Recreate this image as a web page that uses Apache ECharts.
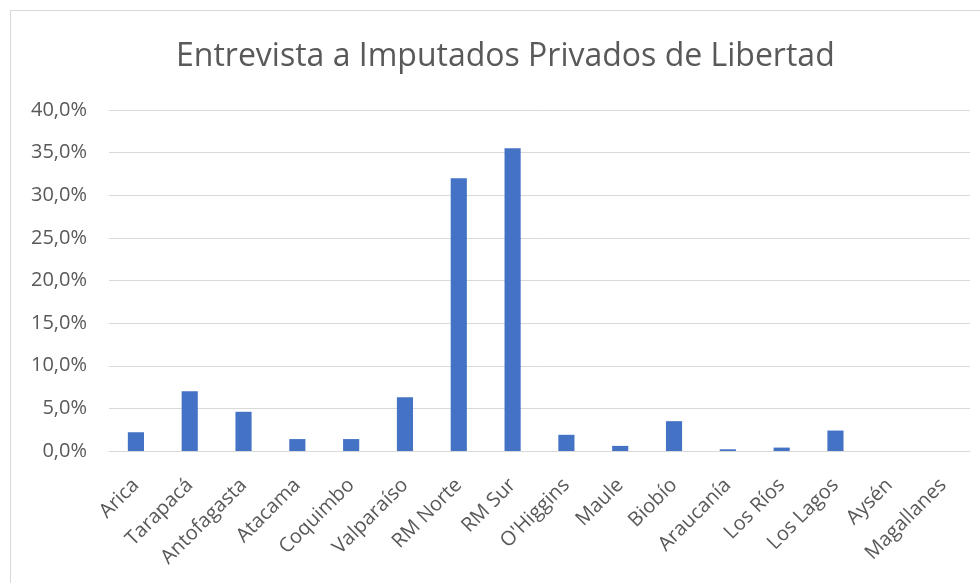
<!DOCTYPE html>
<html>
<head>
<meta charset="utf-8">
<script src="https://cdn.jsdelivr.net/npm/echarts@6/dist/echarts.min.js"></script>
<style>
  html, body { margin: 0; padding: 0; background: #fff; }
  #frame { position: absolute; left: 10px; top: 10px; width: 975px; height: 580px; border: 1px solid #d9d9d9; box-sizing: border-box; }
  #chart { position: absolute; left: 0; top: 0; width: 980px; height: 583px; }
</style>
</head>
<body>
<div id="frame"></div>
<div id="chart"></div>
<script>
// categorías (regiones)
const regiones = ['Arica', 'Tarapacá', 'Antofagasta', 'Atacama', 'Coquimbo', 'Valparaíso', 'RM Norte', 'RM Sur',
    "O'Higgins", 'Maule', 'Biobío', 'Araucanía', 'Los Ríos', 'Los Lagos', 'Aysén', 'Magallanes'];
// porcentaje de entrevistas por región
const porcentajes = [2.2, 7.0, 4.6, 1.4, 1.4, 6.3, 32.0, 35.5, 1.9, 0.6, 3.5, 0.2, 0.4, 2.4, 0, 0];

const FONT = '"Open Sans", "Noto Sans", sans-serif';
const GRAY = '#595959';

const chart = echarts.init(document.getElementById('chart'));
chart.setOption({
    animation: false,
    title: {
        text: 'Entrevista a Imputados Privados de Libertad',
        left: 171,
        top: 36,
        textStyle: { fontFamily: FONT, fontSize: 32, fontWeight: 'normal', color: GRAY }
    },
    grid: { left: 109, right: 10, top: 110, bottom: 132 },
    xAxis: {
        type: 'category',
        data: regiones,
        axisLine: { lineStyle: { color: '#d9d9d9', width: 1 } },
        axisTick: { show: false },
        axisLabel: { interval: 0, rotate: 45, fontFamily: FONT, fontSize: 20, color: GRAY, margin: 31 }
    },
    yAxis: {
        type: 'value',
        min: 0,
        max: 40,
        interval: 5,
        axisLine: { show: false },
        axisTick: { show: false },
        splitLine: { lineStyle: { color: '#d9d9d9', width: 1 } },
        axisLabel: {
            fontFamily: FONT, fontSize: 20, color: GRAY, margin: 22,
            formatter: v => v.toFixed(1).replace('.', ',') + '%'
        }
    },
    series: [{
        type: 'bar',
        data: porcentajes,
        barWidth: '30%',
        itemStyle: { color: '#4472C4' }
    }]
});
</script>
</body>
</html>
